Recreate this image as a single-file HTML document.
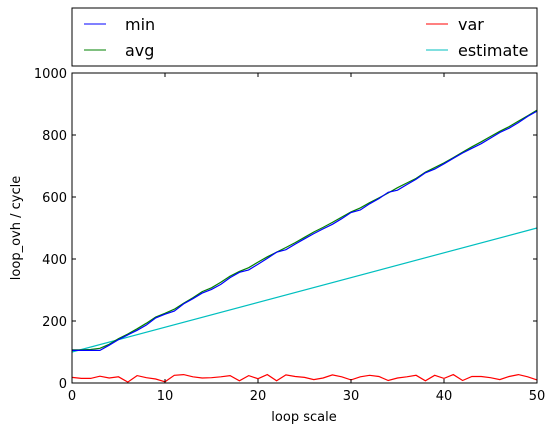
<!DOCTYPE html>
<html><head><meta charset="utf-8"><style>
body{margin:0;background:#fff;font-family:"Liberation Sans","DejaVu Sans",sans-serif}
</style></head><body>
<svg id="chart" width="556" height="434" xmlns="http://www.w3.org/2000/svg" font-family="DejaVu Sans, Liberation Sans, sans-serif">
<rect width="556" height="434" fill="#fff"/>
<g id="plot"></g>
<g font-family="DejaVu Sans, sans-serif">
<rect x="72" y="8" width="465" height="58" fill="#fff" stroke="#000" stroke-width="1"/>
<line x1="84" y1="24" x2="106" y2="24" stroke="#0000ff"/><text x="125" y="30" font-size="16">min</text>
<line x1="84" y1="50" x2="106" y2="50" stroke="#008000"/><text x="125" y="56" font-size="16">avg</text>
<line x1="426" y1="24" x2="448" y2="24" stroke="#ff0000"/><text x="458" y="30" font-size="16">var</text>
<line x1="426" y1="50" x2="448" y2="50" stroke="#00bfbf"/><text x="458" y="56" font-size="16">estimate</text>
</g>
<text x="304" y="421" font-size="13" text-anchor="middle">loop scale</text>
<text transform="translate(20,228) rotate(-90)" font-size="13" text-anchor="middle">loop_ovh / cycle</text>
</svg>
<script>
const minVals=[105,105,105,105,122,140,155,170,187,210,222,232,255,272,290,302,318,340,357,365,383,402,422,430,448,465,482,497,512,530,550,558,578,595,615,622,640,657,678,690,707,725,742,757,772,790,808,822,840,860,877];
const avgVals=[107,107,108,112,125,143,158,175,193,213,225,238,257,275,295,307,325,345,360,372,390,407,422,437,453,470,487,502,518,535,552,565,582,597,613,630,645,660,680,695,710,727,745,762,778,795,812,827,845,862,880];
const varVals=[18,15,15,22,16,20,3,24,17,13,4,25,27,20,16,17,20,24,7,24,14,27,7,26,21,18,11,16,26,20,10,20,25,21,8,16,20,25,7,25,15,27,8,21,21,17,11,21,27,20,10];
const estVals=[100,500];
const estX=[0,50];
const xTicks=[0,10,20,30,40,50];
const yTicks=[0,200,400,600,800,1000];
const X0=72,X1=537,Y0=383,Y1=73;
const xs=v=>X0+(v/50)*(X1-X0);
const ys=v=>Y0-(v/1000)*(Y0-Y1);
const NS="http://www.w3.org/2000/svg";
const g=document.getElementById('plot');
function mk(t,a){const e=document.createElementNS(NS,t);for(const k in a)e.setAttribute(k,a[k]);g.appendChild(e);return e;}
function line(vals,xsArr,color,name){
  const pts=vals.map((v,i)=>xs(xsArr?xsArr[i]:i).toFixed(1)+','+ys(v).toFixed(1)).join(' ');
  const p=mk('polyline',{points:pts,fill:'none',stroke:color,'stroke-width':1.2});
  
  
}
line(estVals,estX,'#00bfbf','estimate-line');
line(varVals,null,'#ff0000','var-line');
line(avgVals,null,'#008000','avg-line');
line(minVals,null,'#0000ff','min-line');
const fr=mk('rect',{x:X0,y:Y1,width:X1-X0,height:Y0-Y1,fill:'none',stroke:'#000','stroke-width':1});


xTicks.forEach(t=>{
  mk('line',{x1:xs(t),x2:xs(t),y1:Y0,y2:Y0-4,stroke:'#000'});
  mk('line',{x1:xs(t),x2:xs(t),y1:Y1,y2:Y1+4,stroke:'#000'});
  const tx=mk('text',{x:xs(t),y:Y0+17,'font-size':13,'text-anchor':'middle'});tx.textContent=t;
  
  
});
yTicks.forEach(t=>{
  mk('line',{x1:X0,x2:X0+4,y1:ys(t),y2:ys(t),stroke:'#000'});
  mk('line',{x1:X1,x2:X1-4,y1:ys(t),y2:ys(t),stroke:'#000'});
  const tx=mk('text',{x:X0-5,y:ys(t)+5,'font-size':13,'text-anchor':'end'});tx.textContent=t;
  
  
});
</script>
</body></html>
